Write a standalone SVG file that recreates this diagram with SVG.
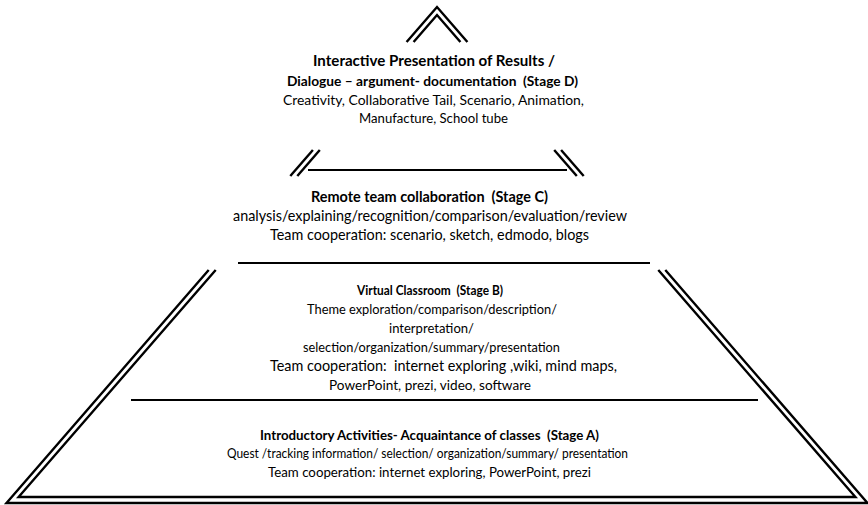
<svg xmlns="http://www.w3.org/2000/svg" width="868" height="505" viewBox="0 0 868 505">
<style>
.o{fill:none;stroke:#000;stroke-width:2.4;stroke-linecap:butt;stroke-linejoin:miter}
.s{fill:none;stroke:#000;stroke-width:2}
text{font-family:Lato,"Noto Sans","Liberation Sans",sans-serif;font-size:14.4px;fill:#000;text-anchor:middle}
.b{font-weight:bold}
</style>
<rect width="868" height="505" fill="#fff"/>
<g id="pyramid">
<polyline class="o" points="406.6,42 437,7 467.4,42"/>
<polyline class="o" points="413.6,42 437,15 460.4,42"/>
<line class="o" x1="312.9" y1="150" x2="290.3" y2="176"/>
<line class="o" x1="319.8" y1="150" x2="297.3" y2="176"/>
<line class="o" x1="561.1" y1="150" x2="583.7" y2="176"/>
<line class="o" x1="554.2" y1="150" x2="576.8" y2="176"/>
<polyline class="o" points="208.7,270 6.5,503 867.5,503 665.3,270"/>
<polyline class="o" points="215.7,270 18.6,497 855.4,497 658.3,270"/>
</g>
<g id="separators">
<line class="s" x1="308" y1="170" x2="567" y2="170"/>
<line class="s" x1="238" y1="263" x2="650" y2="263"/>
<line class="s" x1="131" y1="400" x2="758" y2="400"/>
</g>
<g id="stage-d">
<text class="b" x="434" y="66" style="font-size:14.6px" textLength="242" lengthAdjust="spacingAndGlyphs">Interactive Presentation of Results /</text>
<text class="b" x="432.5" y="86" style="font-size:13.9px" textLength="291" lengthAdjust="spacingAndGlyphs" xml:space="preserve">Dialogue – argument- documentation  (Stage D)</text>
<text x="433.5" y="105" style="font-size:13.9px" textLength="301" lengthAdjust="spacingAndGlyphs">Creativity, Collaborative Tail, Scenario, Animation,</text>
<text x="433.5" y="123" style="font-size:13.5px" textLength="149" lengthAdjust="spacingAndGlyphs">Manufacture, School tube</text>
</g>
<g id="stage-c">
<text class="b" x="429.5" y="202" textLength="237" lengthAdjust="spacingAndGlyphs" xml:space="preserve">Remote team collaboration  (Stage C)</text>
<text x="430" y="221" textLength="394" lengthAdjust="spacingAndGlyphs">analysis/explaining/recognition/comparison/evaluation/review</text>
<text x="429.5" y="240" textLength="319" lengthAdjust="spacingAndGlyphs">Team cooperation: scenario, sketch, edmodo, blogs</text>
</g>
<g id="stage-b">
<text class="b" x="430" y="295" style="font-size:12.6px" textLength="146" lengthAdjust="spacingAndGlyphs" xml:space="preserve">Virtual Classroom  (Stage B)</text>
<text x="432" y="314" style="font-size:13.1px" textLength="250" lengthAdjust="spacingAndGlyphs">Theme exploration/comparison/description/</text>
<text x="431.5" y="333" style="font-size:13.1px" textLength="85" lengthAdjust="spacingAndGlyphs">interpretation/</text>
<text x="431.5" y="352" style="font-size:13.1px" textLength="257" lengthAdjust="spacingAndGlyphs">selection/organization/summary/presentation</text>
<text x="443.5" y="371" textLength="347" lengthAdjust="spacingAndGlyphs" xml:space="preserve">Team cooperation:  internet exploring ,wiki, mind maps,</text>
<text x="430" y="390" style="font-size:13.8px" textLength="202" lengthAdjust="spacingAndGlyphs">PowerPoint, prezi, video, software</text>
</g>
<g id="stage-a">
<text class="b" x="429.5" y="440" style="font-size:13.6px" textLength="339" lengthAdjust="spacingAndGlyphs" xml:space="preserve">Introductory Activities- Acquaintance of classes  (Stage A)</text>
<text x="427.5" y="458" style="font-size:12.6px" textLength="401" lengthAdjust="spacingAndGlyphs">Quest /tracking information/ selection/ organization/summary/ presentation</text>
<text x="429.5" y="477" style="font-size:14px" textLength="323" lengthAdjust="spacingAndGlyphs">Team cooperation: internet exploring, PowerPoint, prezi</text>
</g>
</svg>
